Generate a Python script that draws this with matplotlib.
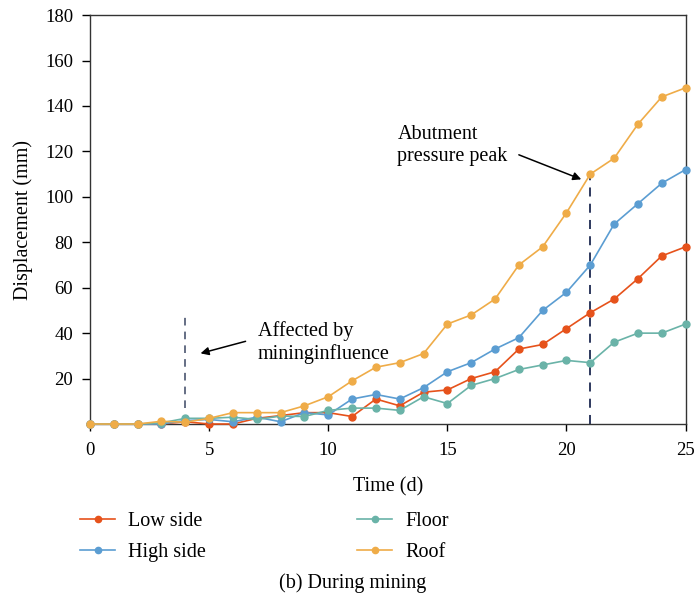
import matplotlib
matplotlib.use("Agg")
import matplotlib.pyplot as plt

plt.rcParams["font.family"] = ["Liberation Serif", "DejaVu Serif"]
plt.rcParams["font.size"] = 14

days = list(range(26))
low_side = [0, 0, 0, 0, 1, 0, 0, 2.5, 3.7, 5, 5, 3.3, 11, 8, 14, 15, 20, 23, 33, 35,
            42, 49, 55, 64, 74, 78]
high_side = [0, 0, 0, 0, 1.5, 2, 1, 3, 1, 5, 4, 11, 13, 11, 16, 23, 27, 33, 38, 50,
             58, 70, 88, 97, 106, 112]
floor = [0, 0, 0, 0.5, 2.5, 2.5, 3, 2, 3.5, 3.3, 6, 7, 7, 6, 12, 9, 17, 20, 24, 26,
         28, 27, 36, 40, 40, 44]
roof = [0, 0, 0, 1.2, 0.8, 2.5, 5, 5, 5, 8, 12, 19, 25, 27, 31, 44, 48, 55, 70, 78,
        93, 110, 117, 132, 144, 148]

series = [
    ("Low side", low_side, "#e6521b"),
    ("High side", high_side, "#5b9dd2"),
    ("Floor", floor, "#6ab3a8"),
    ("Roof", roof, "#efac48"),
]

fig = plt.figure(figsize=(6.95, 6.04), dpi=100)
ax = fig.add_axes([0.1295, 0.298, 0.857, 0.677])

for name, vals, col in series:
    ax.plot(days, vals, color=col, lw=1.2, marker="o", ms=5, label=name, clip_on=False,
            zorder=3)

# dashed markers for influence start and abutment peak
ax.plot([4, 4], [7, 49.5], color="#3b4763", lw=1.1, ls=(0, (5, 4)), zorder=2)
ax.plot([21, 21], [0, 110], color="#1e2a52", lw=1.3, ls=(0, (5, 4)), zorder=2)

ax.annotate("", xy=(4.64, 31.1), xytext=(6.53, 36.4),
            arrowprops=dict(arrowstyle="-|>", color="black", lw=1.1,
                            mutation_scale=12, shrinkA=0, shrinkB=0))
ax.text(7.05, 36.0, "Affected by\nmininginfluence", fontsize=14.5, va="center",
        ha="left", linespacing=1.2)

ax.annotate("", xy=(20.62, 107.7), xytext=(18.0, 118.5),
            arrowprops=dict(arrowstyle="-|>", color="black", lw=1.1,
                            mutation_scale=12, shrinkA=0, shrinkB=0))
ax.text(12.9, 122.5, "Abutment\npressure peak", fontsize=14.5, va="center",
        ha="left", linespacing=1.2)

ax.set_xlim(0, 25)
ax.set_ylim(0, 180)
ax.set_xticks(range(0, 26, 5))
ax.set_yticks(range(20, 181, 20))
ax.tick_params(direction="out", length=5, width=1, labelsize=13.5)
ax.tick_params(axis="x", pad=8)
ax.tick_params(axis="y", length=6, pad=6)
for sp in ax.spines.values():
    sp.set_linewidth(1.0)
    sp.set_color("#333333")
ax.set_xlabel("Time (d)", fontsize=14.5, labelpad=13)
ax.set_ylabel("Displacement (mm)", fontsize=14.5, labelpad=9)

fig.legend(loc="upper left", bbox_to_anchor=(0.115, 0.153), ncol=2, frameon=False,
           fontsize=14.5, handlelength=1.75, handletextpad=0.65, columnspacing=7.5,
           labelspacing=0.62, borderpad=0, borderaxespad=0, markerscale=0.9)

fig.text(0.507, 0.035, "(b) During mining", ha="center", va="center", fontsize=14.5)

fig.savefig("out.png", dpi=100)
